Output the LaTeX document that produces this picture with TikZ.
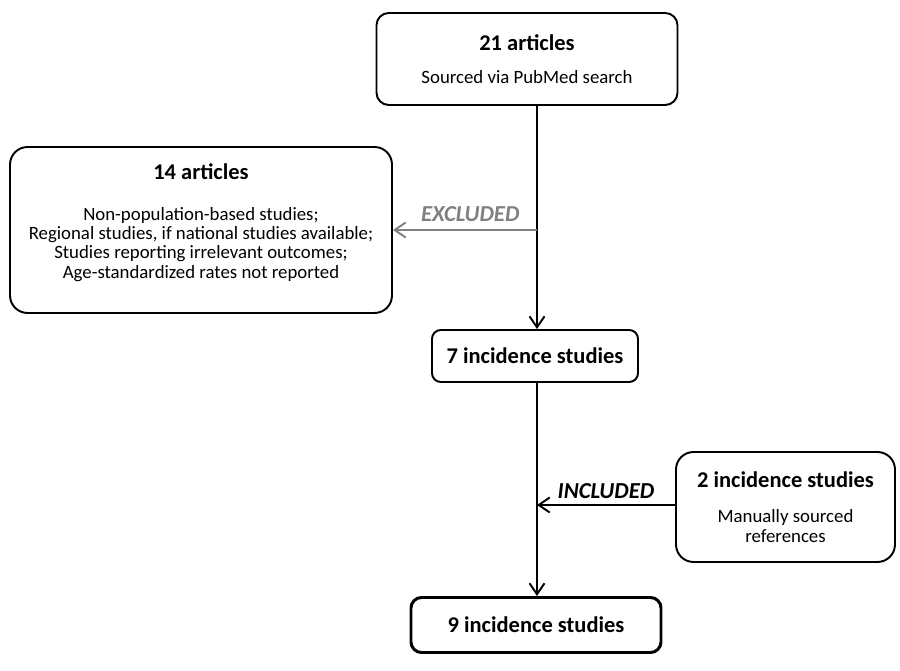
\documentclass[tikz,border=0pt]{standalone}
\usepackage{fontspec}
\setmainfont{Carlito}
\usetikzlibrary{arrows.meta}

\begin{document}
\begin{tikzpicture}[>={Straight Barb[length=2.2mm,width=3mm]},
        box/.style={draw,line width=1.1pt,rounded corners=7pt,align=center,font=\fontsize{10.7}{11}\selectfont},
        title/.style={font=\fontsize{12.8}{14}\selectfont\bfseries},
        flow/.style={->,line width=1.1pt},
        label/.style={font=\fontsize{13}{14}\selectfont\bfseries\itshape}]
        \useasboundingbox (0,0) rectangle (18,13.42);
        \node[box,minimum width=6.02cm,minimum height=1.84cm] (pubmed) at (10.54,12.24)
            {{\fontsize{12.8}{14}\selectfont\bfseries 21 articles}\\[8pt] Sourced via PubMed search};
        \node[box,rounded corners=10pt,minimum width=7.64cm,minimum height=3.32cm] (excl) at (4.02,8.82)
            {{\fontsize{12.8}{14}\selectfont\bfseries 14 articles}\\[12pt] Non-population-based studies;\\ Regional studies, if national studies available;\\ Studies reporting irrelevant outcomes;\\ Age-standardized rates not reported\\[-1pt]\mbox{}};
        \node[box,title,rounded corners=5pt,minimum width=4.12cm,minimum height=1.04cm] (seven) at (10.7,6.3)
            {7 incidence studies};
        \node[box,rounded corners=10pt,minimum width=4.38cm,minimum height=2.2cm] (manual) at (15.71,3.28)
            {{\fontsize{12.8}{14}\selectfont\bfseries 2 incidence studies}\\[9pt] Manually sourced\\ references};
        \node[box,title,line width=1.7pt,rounded corners=6pt,minimum width=5cm,minimum height=1.1cm] (nine) at (10.72,0.92)
            {9 incidence studies};
        \coordinate (split) at (10.74,8.82);
        \coordinate (join) at (10.74,3.32);
        \draw[flow] (pubmed.south -| split) -- (seven.north -| split);
        \draw[flow,gray] (split) -- (excl.east) node[label,midway,above=1pt,xshift=3pt,text=gray] {EXCLUDED};
        \draw[flow] (seven.south -| join) -- (nine.north -| join);
        \draw[flow] (manual.west |- join) -- (join) node[label,midway,above=0pt] {INCLUDED};
    \end{tikzpicture}
\end{document}
